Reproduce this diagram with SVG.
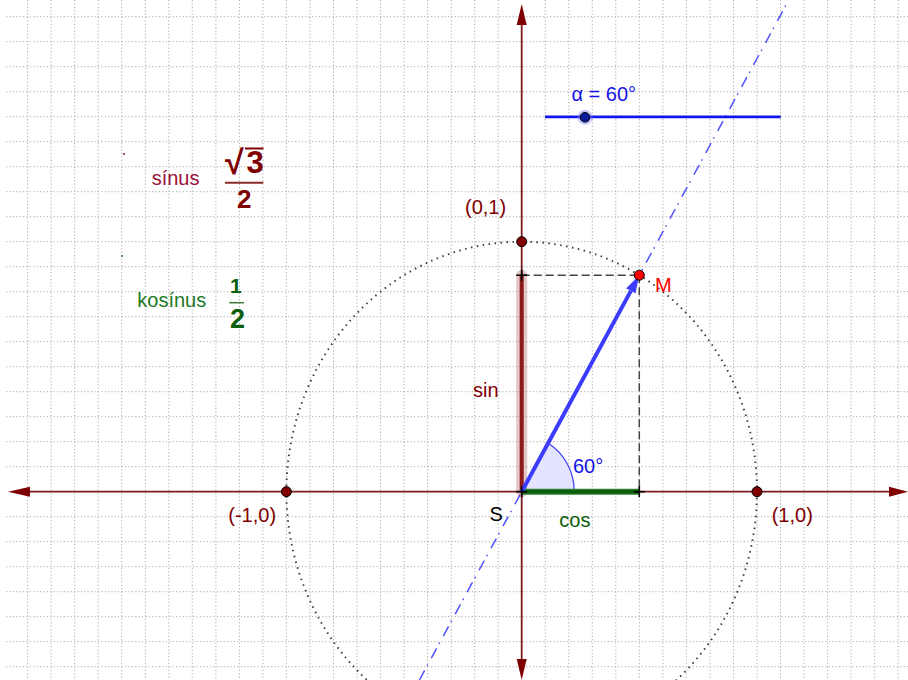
<svg xmlns="http://www.w3.org/2000/svg" width="908" height="680" viewBox="0 0 908 680">
<style>
  .grid line { stroke: #ababab; stroke-width: 1; stroke-dasharray: 1.2 2.2; }
  .lbl { font-family: "Liberation Sans", Arial, sans-serif; font-size: 20px; }
  .red { fill: #7f0000; }
  .pt { fill: #800000; stroke: #000; stroke-width: 1; }
  .axis { stroke: #7b1c1c; stroke-width: 1.8; fill: none; }
  .head { fill: #7f0000; }
  .cross { stroke: #000; stroke-width: 1.6; }
  .dash { stroke: #444; stroke-width: 1.5; stroke-dasharray: 8 4; fill: none; }
  .frac { font-family: "Liberation Sans", Arial, sans-serif; font-weight: bold; }
</style>
<rect width="908" height="680" fill="#fff"/>
<g class="grid" id="grid">
  <line x1="27.6" y1="0" x2="27.6" y2="680"/><line x1="51.1" y1="0" x2="51.1" y2="680"/><line x1="74.7" y1="0" x2="74.7" y2="680"/><line x1="98.2" y1="0" x2="98.2" y2="680"/><line x1="121.7" y1="0" x2="121.7" y2="680"/><line x1="145.3" y1="0" x2="145.3" y2="680"/><line x1="168.8" y1="0" x2="168.8" y2="680"/><line x1="192.3" y1="0" x2="192.3" y2="680"/><line x1="215.9" y1="0" x2="215.9" y2="680"/><line x1="239.4" y1="0" x2="239.4" y2="680"/><line x1="262.9" y1="0" x2="262.9" y2="680"/><line x1="286.4" y1="0" x2="286.4" y2="680"/><line x1="310.0" y1="0" x2="310.0" y2="680"/><line x1="333.5" y1="0" x2="333.5" y2="680"/><line x1="357.0" y1="0" x2="357.0" y2="680"/><line x1="380.6" y1="0" x2="380.6" y2="680"/><line x1="404.1" y1="0" x2="404.1" y2="680"/><line x1="427.6" y1="0" x2="427.6" y2="680"/><line x1="451.2" y1="0" x2="451.2" y2="680"/><line x1="474.7" y1="0" x2="474.7" y2="680"/><line x1="498.2" y1="0" x2="498.2" y2="680"/><line x1="545.2" y1="0" x2="545.2" y2="680"/><line x1="568.8" y1="0" x2="568.8" y2="680"/><line x1="592.3" y1="0" x2="592.3" y2="680"/><line x1="615.8" y1="0" x2="615.8" y2="680"/><line x1="639.3" y1="0" x2="639.3" y2="680"/><line x1="662.9" y1="0" x2="662.9" y2="680"/><line x1="686.4" y1="0" x2="686.4" y2="680"/><line x1="709.9" y1="0" x2="709.9" y2="680"/><line x1="733.5" y1="0" x2="733.5" y2="680"/><line x1="757.0" y1="0" x2="757.0" y2="680"/><line x1="780.5" y1="0" x2="780.5" y2="680"/><line x1="804.1" y1="0" x2="804.1" y2="680"/><line x1="827.6" y1="0" x2="827.6" y2="680"/><line x1="851.1" y1="0" x2="851.1" y2="680"/><line x1="874.7" y1="0" x2="874.7" y2="680"/><line x1="898.2" y1="0" x2="898.2" y2="680"/>
  <line x1="6" y1="16.7" x2="908" y2="16.7"/><line x1="6" y1="41.7" x2="908" y2="41.7"/><line x1="6" y1="66.7" x2="908" y2="66.7"/><line x1="6" y1="91.7" x2="908" y2="91.7"/><line x1="6" y1="116.7" x2="908" y2="116.7"/><line x1="6" y1="141.7" x2="908" y2="141.7"/><line x1="6" y1="166.7" x2="908" y2="166.7"/><line x1="6" y1="191.7" x2="908" y2="191.7"/><line x1="6" y1="216.7" x2="908" y2="216.7"/><line x1="6" y1="241.7" x2="908" y2="241.7"/><line x1="6" y1="266.7" x2="908" y2="266.7"/><line x1="6" y1="291.7" x2="908" y2="291.7"/><line x1="6" y1="316.7" x2="908" y2="316.7"/><line x1="6" y1="341.7" x2="908" y2="341.7"/><line x1="6" y1="366.7" x2="908" y2="366.7"/><line x1="6" y1="391.7" x2="908" y2="391.7"/><line x1="6" y1="416.7" x2="908" y2="416.7"/><line x1="6" y1="441.7" x2="908" y2="441.7"/><line x1="6" y1="466.7" x2="908" y2="466.7"/><line x1="6" y1="516.7" x2="908" y2="516.7"/><line x1="6" y1="541.7" x2="908" y2="541.7"/><line x1="6" y1="566.7" x2="908" y2="566.7"/><line x1="6" y1="591.7" x2="908" y2="591.7"/><line x1="6" y1="616.7" x2="908" y2="616.7"/><line x1="6" y1="641.7" x2="908" y2="641.7"/><line x1="6" y1="666.7" x2="908" y2="666.7"/>
</g>
<g id="axes">
  <line class="axis" x1="28" y1="491.7" x2="890" y2="491.7"/>
  <line class="axis" x1="521.7" y1="22" x2="521.7" y2="662"/>
  <polygon class="head" points="8,491.7 30,486.7 30,496.7"/>
  <polygon class="head" points="908,491.7 889,486.7 889,496.7"/>
  <polygon class="head" points="521.7,4 516.7,25 526.7,25"/>
  <polygon class="head" points="521.7,680 516.7,659 526.7,659"/>
</g>
<g id="circle">
  <ellipse cx="521.7" cy="491.7" rx="235.3" ry="250" fill="none" stroke="#3a3a3a" stroke-width="1.9" stroke-dasharray="1.5 4.5"/>
</g>
<g id="connectors">
  <line x1="419.4" y1="680" x2="788.8" y2="0" stroke="#5050ff" stroke-width="1.5" stroke-dasharray="11 5 1.5 7.5"/>
  <path d="M521.7,491.7 L574.3,491.7 A52.6,55.9 0 0 0 548,443.3 Z" fill="#e4e4ff" stroke="none"/>
  <path d="M574.3,491.7 A52.6,55.9 0 0 0 548,443.3" fill="none" stroke="#3a3aff" stroke-width="1.2"/>
  <line class="dash" x1="521.7" y1="275.2" x2="639.3" y2="275.2"/>
  <line class="dash" x1="639.3" y1="275.2" x2="639.3" y2="491.7"/>
  <line x1="521.7" y1="275.2" x2="521.7" y2="491.7" stroke="#800000" stroke-opacity="0.22" stroke-width="11" stroke-linecap="round"/>
  <line x1="521.7" y1="275.2" x2="521.7" y2="491.7" stroke="#8b1a1a" stroke-width="4"/>
  <line x1="521.7" y1="491.7" x2="639.3" y2="491.7" stroke="#2e7d2e" stroke-width="6"/>
  <line x1="521.7" y1="491.7" x2="639.3" y2="491.7" stroke="#0b5e0b" stroke-width="3.5"/>
  <line x1="521.7" y1="491.7" x2="631" y2="290.6" stroke="#3c3cff" stroke-width="4"/>
  <polygon points="639.3,275.2 635.4,293.6 631,290.6 626.0,288.4" fill="#3c3cff"/>
  <g class="cross">
    <line x1="516.2" y1="275.2" x2="527.2" y2="275.2"/><line x1="521.7" y1="269.7" x2="521.7" y2="280.7"/>
    <line x1="633.8" y1="491.7" x2="644.8" y2="491.7"/><line x1="639.3" y1="486.2" x2="639.3" y2="497.2"/>
    <line x1="516.2" y1="491.7" x2="527.2" y2="491.7"/><line x1="521.7" y1="486.2" x2="521.7" y2="497.2"/>
  </g>
</g>
<g id="slider">
  <line x1="545" y1="116.8" x2="780.7" y2="116.8" stroke="#1414f0" stroke-width="2.8"/>
  <circle cx="585" cy="117.3" r="7.5" fill="#8080ff" fill-opacity="0.45"/>
  <circle cx="585" cy="117.3" r="4.8" fill="#0a1a9a" stroke="#000" stroke-width="1"/>
  <text class="lbl" x="571.5" y="100.7" fill="#1414e6">α = 60°</text>
</g>
<g id="p01"><circle class="pt" cx="521.7" cy="241.7" r="5"/><text class="lbl red" x="465" y="214">(0,1)</text></g>
<g id="pm10"><circle class="pt" cx="286.4" cy="491.7" r="5"/><text class="lbl red" x="228.3" y="521.7">(-1,0)</text></g>
<g id="p10"><circle class="pt" cx="757" cy="491.7" r="5"/><text class="lbl red" x="771.7" y="521.7">(1,0)</text></g>
<g id="pM"><circle cx="639.3" cy="275.2" r="5" fill="#ff0000" stroke="#000" stroke-width="1"/><text class="lbl" x="655" y="291.5" fill="#ff0000">M</text></g>
<g id="pS"><text class="lbl" x="489.5" y="520.7" fill="#000">S</text></g>
<g id="lsin"><text class="lbl" x="473" y="397" fill="#7f0000">sin</text></g>
<g id="lcos"><text class="lbl" x="559.3" y="526.7" fill="#0b5e0b">cos</text></g>
<g id="langle"><text class="lbl" x="573" y="473.3" fill="#1414e6">60°</text></g>
<g id="sinus">
  <circle cx="124" cy="154" r="1" fill="#99103a"/>
  <text class="lbl" x="151.7" y="185" fill="#99103a">sínus</text>
  <text class="frac" x="225" y="174" font-size="34" fill="#7f0000">√</text>
  <line x1="245" y1="148.5" x2="263.5" y2="148.5" stroke="#7f0000" stroke-width="2"/>
  <text class="frac" x="246.5" y="172.5" font-size="31" fill="#7f0000">3</text>
  <line x1="225" y1="182.7" x2="263.3" y2="182.7" stroke="#8b2a2a" stroke-width="2"/>
  <text class="frac" x="237" y="208.3" font-size="26" fill="#7f0000">2</text>
</g>
<g id="kosinus">
  <circle cx="122" cy="256" r="1" fill="#1e7a1e"/>
  <text class="lbl" x="137.3" y="306.7" fill="#1e7a1e">kosínus</text>
  <text class="frac" x="230" y="292.5" font-size="21" fill="#0b5e0b">1</text>
  <line x1="229.3" y1="302.7" x2="244" y2="302.7" stroke="#3d7a3d" stroke-width="1.5"/>
  <text class="frac" x="230" y="328.3" font-size="27" fill="#0b5e0b">2</text>
</g>
</svg>
